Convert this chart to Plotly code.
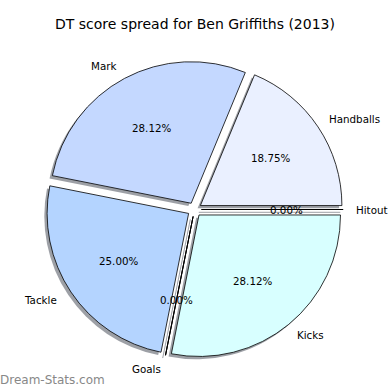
import math
import plotly.graph_objects as go

labels = ["Handballs", "Mark", "Tackle", "Goals", "Kicks", "Hitout"]
values = [6, 9, 8, 0, 9, 0]
colors = ["#eaf0ff", "#c4d8ff", "#b4d4ff", "#b4d4ff", "#d8ffff", "#eaf0ff"]
title = "DT score spread for Ben Griffiths (2013)"
watermark = "Dream-Stats.com"

total = sum(values)
pct_text = [f"{v / total * 100:.2f}%" for v in values]
explode = 0.05
pull = [explode] * len(values)

W = H = 390
cx, cy = 194.5, 209.5
half = 148.6
r = half / (1 + explode)
sh = 2.8
FONT = "DejaVu Sans"

def dom(dx, dy):
    x0 = (cx + dx - half) / W
    x1 = (cx + dx + half) / W
    yb = H - (cy + dy)
    return dict(x=[x0, x1], y=[(yb - half) / H, (yb + half) / H])

# plotly counterclockwise: first slice ends at `rotation`; start it at 3 o'clock
rotation = 90 - 360 * values[0] / total

common = dict(labels=labels, values=values, sort=False, direction="counterclockwise",
              rotation=rotation, pull=pull, showlegend=False, hoverinfo="skip",
              textinfo="none")

fig = go.Figure()
fig.add_trace(go.Pie(**common, domain=dom(-sh, sh),
                     marker=dict(colors=["rgba(60,65,77,0.5)"] * len(values), line=dict(width=0))))
fig.add_trace(go.Pie(**common, domain=dom(0, 0),
                     marker=dict(colors=colors, line=dict(color="black", width=0.8))))

def P(x, y):
    return x / W, 1 - y / H

annotations = []
shapes = []
cum = 0
for lab, v, t in zip(labels, values, pct_text):
    a0 = cum / total * 2 * math.pi
    cum += v
    a1 = cum / total * 2 * math.pi
    am = (a0 + a1) / 2
    ux, uy = math.cos(am), -math.sin(am)
    ex, ey = cx + explode * r * ux, cy + explode * r * uy
    # percent inside
    x, y = P(ex + 0.6 * r * ux, ey + 0.6 * r * uy)
    annotations.append(dict(text=t, x=x, y=y, xref="paper", yref="paper",
                            xanchor="center", yanchor="middle", showarrow=False,
                            font=dict(family=FONT, size=10.3, color="black")))
    # label outside
    xt = explode * r * ux + 1.1 * r * ux
    left = xt > 0
    x, y = P(ex + 1.1 * r * ux, ey + 1.1 * r * uy)
    annotations.append(dict(text=lab, x=x, y=y, xref="paper", yref="paper",
                            xanchor="left" if left else "right", yanchor="middle",
                            xshift=-3 if left else 0, showarrow=False,
                            font=dict(family=FONT, size=10.3, color="black")))
    if v == 0:
        for dx, dy, col in [(-sh, sh, "rgba(60,65,77,0.5)"), (0, 0, "black")]:
            x0, y0 = P(ex + dx, ey + dy)
            x1, y1 = P(ex + dx + r * ux, ey + dy + r * uy)
            shapes.append(dict(type="line", xref="paper", yref="paper",
                               x0=x0, y0=y0, x1=x1, y1=y1,
                               line=dict(color=col, width=1)))

annotations.append(dict(text=watermark, x=0, y=1 - 380 / H, xref="paper", yref="paper",
                        xanchor="left", yanchor="middle", showarrow=False, xshift=-2,
                        font=dict(family=FONT, size=12, color="#888888")))

fig.update_layout(
    width=W, height=H, margin=dict(l=0, r=0, t=0, b=0),
    paper_bgcolor="white", plot_bgcolor="white",
    title=dict(text=title, x=0.5, xanchor="center", y=1 - 24 / H, yanchor="middle",
               font=dict(family=FONT, size=14, color="black")),
    annotations=annotations, shapes=shapes,
)
fig.write_html("out.html", config={"displayModeBar": False},
               post_script="document.body.style.margin='0';")
